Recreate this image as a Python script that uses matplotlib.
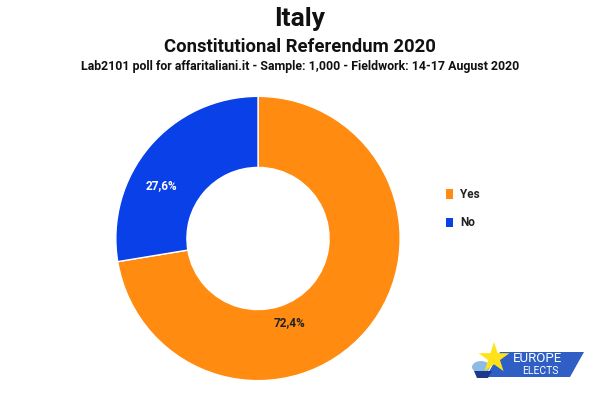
import matplotlib

matplotlib.use("Agg")
import matplotlib.pyplot as plt
from matplotlib.patches import Circle, Polygon, Rectangle

# Poll data (Lab2101 for affaritaliani.it)
labels = ["Yes", "No"]
shares = [72.4, 27.6]
colors = ["#FF8C10", "#0A40E8"]
label_colors = ["#222222", "white"]

FONT = ["Roboto", "DejaVu Sans"]

fig = plt.figure(figsize=(6.0, 3.98), dpi=100)
fig.patch.set_facecolor("white")

# titles
fig.text(0.5, 0.952, "Italy", ha="center", va="center", fontsize=19,
         fontweight="bold", family=FONT, color="#111111")
fig.text(0.5, 0.882, "Constitutional Referendum 2020", ha="center", va="center",
         fontsize=13.3, fontweight="bold", family=FONT, color="#111111")
fig.text(0.5, 0.832,
         "Lab2101 poll for affaritaliani.it - Sample: 1,000 - Fieldwork: 14-17 August 2020",
         ha="center", va="center", fontsize=8.9, fontweight="bold", family=FONT,
         color="#111111")

# donut
ax = fig.add_axes([258 / 600 - 145 / 600, 1 - (238.5 + 145) / 398, 290 / 600, 290 / 398])
wedges, texts = ax.pie(
    shares,
    colors=colors,
    startangle=90,
    counterclock=False,
    radius=1.0,
    wedgeprops=dict(width=0.5, edgecolor="white", linewidth=1),
)
ax.set_aspect("equal")
ax.set_xlim(-1.02, 1.02)
ax.set_ylim(-1.02, 1.02)

# percentage labels, placed roughly where the source chart puts them
label_pos = [(0.22, -0.59), (-0.68, 0.37)]
for val, pos, c in zip(shares, label_pos, label_colors):
    ax.text(pos[0], pos[1], f"{val:.1f}%".replace(".", ","), ha="center", va="center",
            fontsize=8.5, fontweight="bold", family=FONT, color=c)

# legend
for i, (lab, col) in enumerate(zip(labels, colors)):
    y = 1 - (194 + 28 * i) / 398
    fig.patches.append(Rectangle((446 / 600, y - 4.5 / 398), 7 / 600, 9 / 398,
                                 transform=fig.transFigure, facecolor=col,
                                 edgecolor="none"))
    fig.text(460 / 600, y, lab, ha="left", va="center", fontsize=8.5,
             fontweight="bold", family=FONT, color="#222222")

# Europe Elects logo
def fxy(x, y):
    return (x / 600, 1 - y / 398)

band = Polygon([fxy(500, 352), fxy(584, 352), fxy(570, 377), fxy(486, 377)],
               closed=True, transform=fig.transFigure, facecolor="#2F5FC4",
               edgecolor="none")
fig.patches.append(band)
fig.patches.append(Circle(fxy(481, 367), 9 / 600, transform=fig.transFigure,
                          facecolor="#8CBCE6", edgecolor="none"))
fig.patches.append(Polygon([fxy(474, 371), fxy(492, 371), fxy(488, 378), fxy(477, 378)],
                           closed=True, transform=fig.transFigure,
                           facecolor="#1D3A8A", edgecolor="none"))
fig.text(*fxy(493, 361), "\u2605", ha="center", va="center", fontsize=29,
         color="#FFE21A", family="DejaVu Sans")
fig.text(*fxy(537, 359), "EUROPE", ha="center", va="center", fontsize=9.5,
         color="white", family=FONT)
fig.text(*fxy(540, 371), "ELECTS", ha="center", va="center", fontsize=7.5,
         color="white", family=FONT)

fig.savefig("out.png", dpi=100, facecolor="white")
